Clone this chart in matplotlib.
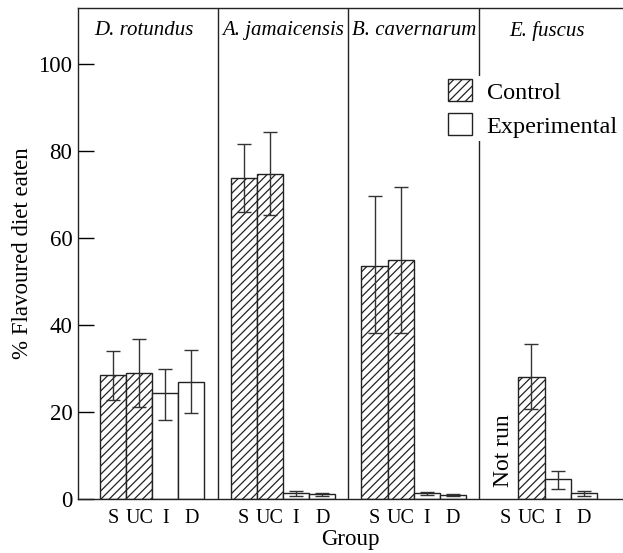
import numpy as np
import matplotlib.pyplot as plt
from matplotlib.patches import Patch

plt.rcParams['font.family'] = ['Liberation Serif', 'DejaVu Serif']
plt.rcParams['hatch.linewidth'] = 0.9

species = ["D. rotundus", "A. jamaicensis", "B. cavernarum", "E. fuscus"]
groups = ["S", "UC", "I", "D"]

# mean % eaten, and lower / upper error limits (None = not run)
means = [
    [28.6, 29.0, 24.3, 27.0],
    [73.9, 74.9, 1.3, 1.1],
    [53.7, 55.0, 1.3, 1.0],
    [None, 28.1, 4.5, 1.3],
]
lows = [
    [22.8, 21.2, 18.3, 19.8],
    [66.1, 65.3, 0.8, 0.7],
    [38.1, 38.2, 1.0, 0.8],
    [None, 20.8, 2.3, 0.8],
]
highs = [
    [34.0, 36.8, 30.0, 34.3],
    [81.7, 84.4, 1.9, 1.5],
    [69.7, 71.8, 1.6, 1.2],
    [None, 35.6, 6.5, 1.8],
]
control = [True, True, False, False]

fig = plt.figure(figsize=(6.23, 5.53), dpi=100)
ax = fig.add_axes([0.125, 0.0976, 0.875, 0.888])

title_x = [1.2, 6.5, 11.5, 16.6]

xs, labels = [], []
for g in range(len(species)):
    for b in range(len(groups)):
        x = 5 * g + b
        xs.append(x)
        labels.append(groups[b])
        m = means[g][b]
        if m is None:
            continue
        ax.bar(x, m, width=1.0, facecolor='white', edgecolor='#222222',
               linewidth=1.0, hatch='////' if control[b] else None, zorder=2)
        ax.errorbar(x, m, yerr=[[m - lows[g][b]], [highs[g][b] - m]],
                    fmt='none', ecolor='#333333', elinewidth=1.0,
                    capsize=5, capthick=1.0, zorder=3)
    ax.text(title_x[g], 107.8, species[g], style='italic', fontsize=15,
            ha='center', va='center')
    if g < len(species) - 1:
        ax.axvline(5 * g + 4, color='#222222', linewidth=1.0, zorder=1)

# E. fuscus, group S was not tested
ax.text(14.92, 2.8, "Not run", rotation=90, fontsize=17,
        ha='center', va='bottom')

ax.set_xlim(-1.34, 19.5)
ax.set_ylim(0, 113)
ax.set_xticks(xs)
ax.set_xticklabels(labels, fontsize=14.5)
ax.tick_params(axis='x', length=0, pad=7)
ax.set_yticks([0, 20, 40, 60, 80, 100])
ax.tick_params(axis='y', direction='in', length=11.5, width=1.0, labelsize=16.5, pad=4)
ax.spines['right'].set_visible(False)
for s in ['left', 'top', 'bottom']:
    ax.spines[s].set_linewidth(1.0)
    ax.spines[s].set_color('#222222')

ax.set_ylabel("% Flavoured diet eaten", fontsize=16.5, labelpad=4)
ax.set_xlabel("Group", fontsize=16.5, labelpad=1)

handles = [Patch(facecolor='white', edgecolor='#222222', hatch='////', label='Control'),
           Patch(facecolor='white', edgecolor='#222222', label='Experimental')]
leg = ax.legend(handles=handles, loc='upper left', bbox_to_anchor=(0.672, 0.862),
                frameon=True, fontsize=17.5, handlelength=1.0, handleheight=1.0,
                handletextpad=0.6, labelspacing=0.4, borderpad=0.15,
                borderaxespad=0)
leg.get_frame().set_edgecolor('none')
leg.get_frame().set_facecolor('white')
leg.get_frame().set_alpha(1.0)
leg.set_zorder(5)

fig.savefig("out.png", dpi=100)
